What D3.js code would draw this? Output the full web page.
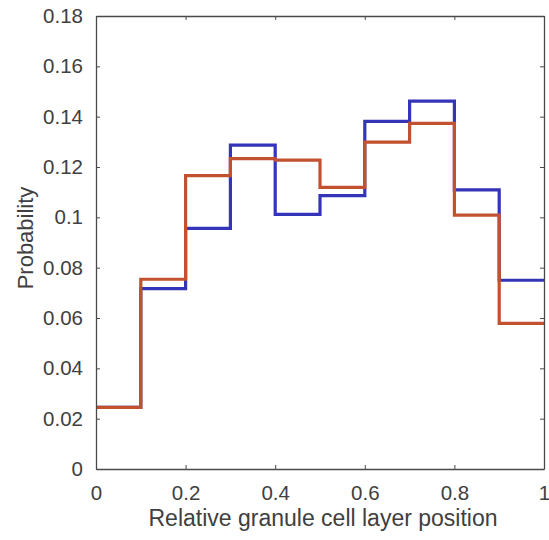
<!DOCTYPE html>
<html>
<head>
<meta charset="utf-8">
<script src="https://cdn.jsdelivr.net/npm/d3@7"></script>
<style>
  body { margin: 0; background: #fff; }
  text { font-family: "Liberation Sans", Arial, sans-serif; fill: #404040; }
</style>
</head>
<body>
<div id="chart"></div>
<script>
//bin edges and probabilities
const binEdges = [0, 0.1, 0.2, 0.3, 0.4, 0.5, 0.6, 0.7, 0.8, 0.9, 1];
const blueValues = [0.0245, 0.0717, 0.0956, 0.1287, 0.1012, 0.1086, 0.1381, 0.1462, 0.1109, 0.0750];
const redValues = [0.0245, 0.0754, 0.1166, 0.1233, 0.1227, 0.1119, 0.1299, 0.1373, 0.1009, 0.0579];
const xTicks = [0, 0.2, 0.4, 0.6, 0.8, 1];
const yTicks = [0, 0.02, 0.04, 0.06, 0.08, 0.1, 0.12, 0.14, 0.16, 0.18];

const width = 549;
const height = 540;
const margin = { top: 16, right: 5, bottom: 71, left: 96 };

const svg = d3.select("#chart")
  .append("svg")
  .attr("width", width)
  .attr("height", height);

const x = d3.scaleLinear().domain([0, 1]).range([margin.left, width - margin.right]);
const y = d3.scaleLinear().domain([0, 0.18]).range([height - margin.bottom, margin.top]);

//turn bin values into step points (last value repeated at the right edge)
function stepPoints(values) {
  const pts = values.map((v, i) => [binEdges[i], v]);
  pts.push([binEdges[binEdges.length - 1], values[values.length - 1]]);
  return pts;
}

const line = d3.line()
  .x(d => x(d[0]))
  .y(d => y(d[1]))
  .curve(d3.curveStepAfter);

svg.append("path")
  .datum(stepPoints(blueValues))
  .attr("fill", "none")
  .attr("stroke", "#3434b8")
  .attr("stroke-width", 3.2)
  .attr("d", line);

svg.append("path")
  .datum(stepPoints(redValues))
  .attr("fill", "none")
  .attr("stroke", "#c2522f")
  .attr("stroke-width", 3.2)
  .attr("d", line);

//axes with inward ticks on all four sides
const axisColor = "#4a4a4a";
const fmt = d => d === 0 ? "0" : d3.format("~g")(d);

const xAxis = svg.append("g")
  .attr("transform", `translate(0,${y(0)})`)
  .call(d3.axisBottom(x).tickValues(xTicks).tickSizeInner(-4).tickSizeOuter(0).tickPadding(16.5).tickFormat(fmt));
const yAxis = svg.append("g")
  .attr("transform", `translate(${x(0)},0)`)
  .call(d3.axisLeft(y).tickValues(yTicks).tickSizeInner(-4).tickSizeOuter(0).tickPadding(13).tickFormat(fmt));
const topAxis = svg.append("g")
  .attr("transform", `translate(0,${y(0.18)})`)
  .call(d3.axisTop(x).tickValues(xTicks).tickSizeInner(-4).tickSizeOuter(0).tickFormat(""));
const rightAxis = svg.append("g")
  .attr("transform", `translate(${x(1)},0)`)
  .call(d3.axisRight(y).tickValues(yTicks).tickSizeInner(-4).tickSizeOuter(0).tickFormat(""));

[xAxis, yAxis, topAxis, rightAxis].forEach(g => {
  g.select(".domain").attr("stroke", axisColor).attr("stroke-width", 1.3);
  g.selectAll(".tick line").attr("stroke", axisColor);
  g.selectAll(".tick text")
    .attr("font-family", "Liberation Sans, Arial, sans-serif")
    .attr("font-size", 20.5)
    .attr("fill", "#404040");
});

//axis labels
svg.append("text")
  .attr("x", 323)
  .attr("y", 526)
  .attr("text-anchor", "middle")
  .attr("font-size", 23)
  .text("Relative granule cell layer position");

svg.append("text")
  .attr("transform", `translate(33,238) rotate(-90)`)
  .attr("text-anchor", "middle")
  .attr("font-size", 22)
  .text("Probability");
</script>
</body>
</html>
